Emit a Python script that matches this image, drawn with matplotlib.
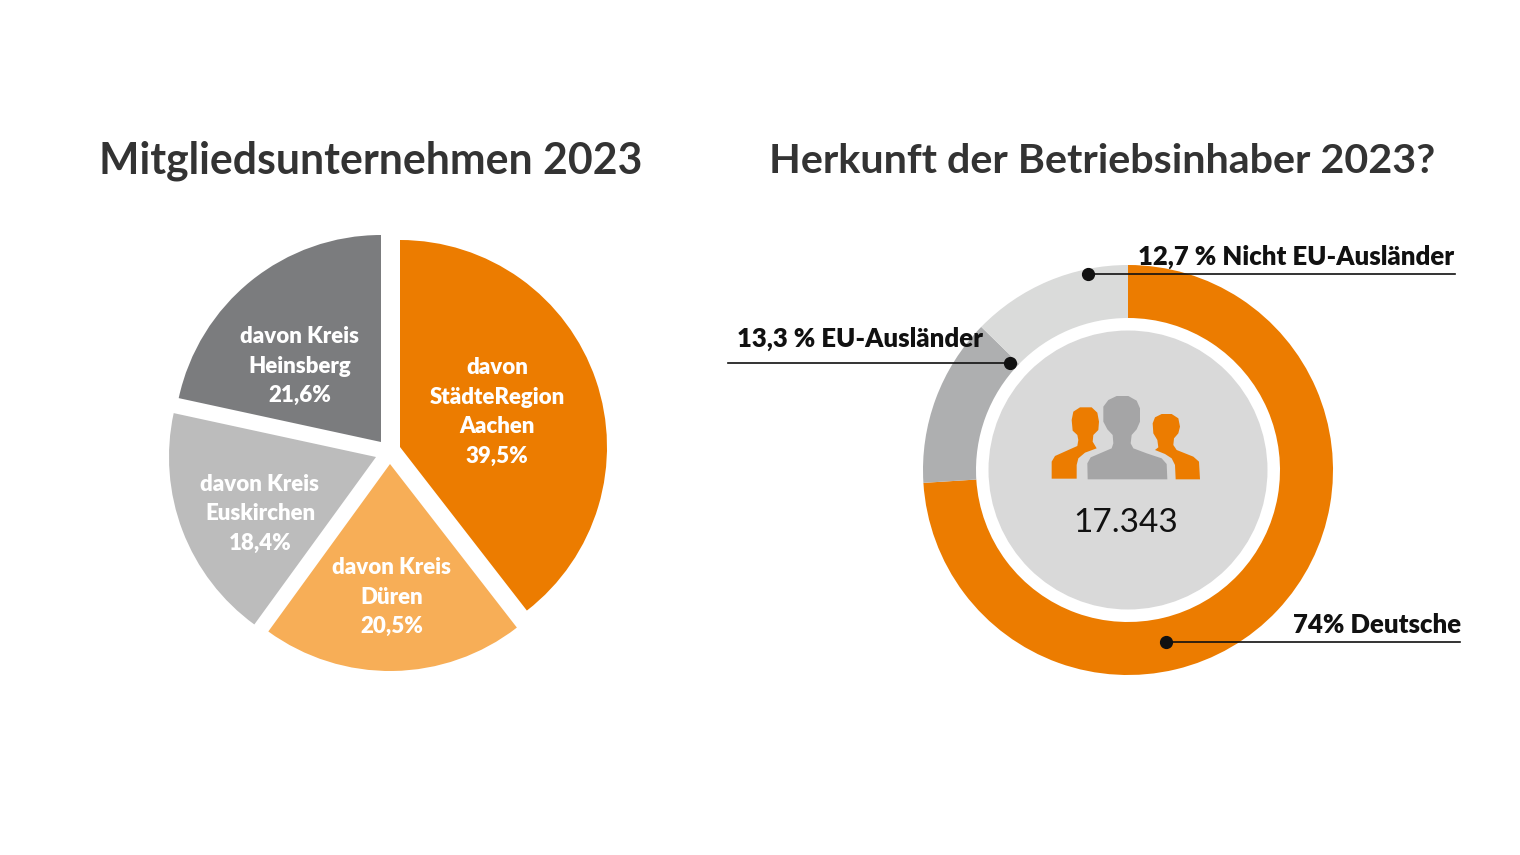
import matplotlib
matplotlib.use("Agg")
import matplotlib.pyplot as plt
from matplotlib.patches import Wedge, Circle, Polygon

plt.rcParams['font.family'] = ['Lato', 'DejaVu Sans']

# linkes Diagramm
labels_links = ["davon\nStädteRegion\nAachen\n39,5%", "davon Kreis\nDüren\n20,5%",
                "davon Kreis\nEuskirchen\n18,4%", "davon Kreis\nHeinsberg\n21,6%"]
werte_links = [39.5, 20.5, 18.4, 21.6]
farben_links = ["#ec7c00", "#f7ae57", "#bcbcbc", "#7b7c7e"]

# rechtes Diagramm
werte_rechts = [74, 13.3, 12.7]
farben_rechts = ["#ec7c00", "#aeafb0", "#dadbda"]
labels_rechts = ["74% Deutsche", "13,3 % EU-Ausländer", "12,7 % Nicht EU-Ausländer"]
gesamt = "17.343"

titel_links = "Mitgliedsunternehmen 2023"
titel_rechts = "Herkunft der Betriebsinhaber 2023?"

fig = plt.figure(figsize=(15.2, 8.55), dpi=100)
ax = fig.add_axes([0, 0, 1, 1])
ax.set_xlim(0, 1520)
ax.set_ylim(855, 0)
ax.set_aspect("equal")
ax.axis("off")

# Tortenstuecke, im Bild y nach unten, deshalb Winkel gespiegelt
r = 207
zentren = [(400, 447), (390, 464), (376, 457), (381, 442)]
start = 90
for wert, farbe, mitte in zip(werte_links, farben_links, zentren):
    ende = start - wert * 3.6
    ax.add_patch(Wedge(mitte, r, -start, -ende, facecolor=farbe, edgecolor="none"))
    start = ende

pos_labels = [(497, 412), (392, 597), (260, 514), (300, 366)]
for text, (x, y) in zip(labels_links, pos_labels):
    ax.text(x, y, text, color="white", fontsize=16, fontweight="heavy", ha="center", va="center", linespacing=1.5)

# Ring
cx2, cy2, r2 = 1128, 470, 205
start = 90
for wert, farbe in zip(werte_rechts, farben_rechts):
    ende = start - wert * 3.6
    ax.add_patch(Wedge((cx2, cy2), r2, -start, -ende, width=53, facecolor=farbe, edgecolor="none"))
    start = ende
ax.add_patch(Circle((cx2, cy2), 139.5, facecolor="#d9d9d9", edgecolor="none"))

person_mitte = [(263, 328), (262, 280), (272, 262), (300, 250), (335, 235), (340, 220), (338, 195), (322, 178),
                (310, 155), (310, 110), (325, 90), (350, 78), (385, 78), (410, 92), (420, 115), (420, 155),
                (410, 178), (395, 195), (392, 220), (400, 235), (440, 250), (485, 265), (500, 282), (502, 328)]
person_links = [(155, 326), (155, 275), (165, 258), (205, 240), (232, 228), (235, 210), (232, 195), (218, 182),
                (215, 150), (220, 125), (240, 112), (275, 112), (292, 128), (297, 155), (295, 180), (280, 195),
                (278, 215), (290, 235), (255, 248), (235, 265), (230, 285), (230, 326)]
person_rechts = [(527, 328), (525, 285), (515, 265), (495, 252), (465, 240), (475, 232), (472, 210), (460, 190),
                 (458, 160), (465, 142), (485, 132), (515, 132), (535, 145), (540, 170), (535, 190), (522, 205),
                 (520, 225), (530, 240), (580, 260), (597, 275), (600, 328)]

def umriss(punkte):
    return [(1000 + x / 3, 370 + y / 3) for x, y in punkte]

ax.add_patch(Polygon(umriss(person_links), facecolor="#ec7c00", edgecolor="none"))
ax.add_patch(Polygon(umriss(person_rechts), facecolor="#ec7c00", edgecolor="none"))
ax.add_patch(Polygon(umriss(person_mitte), facecolor="#a5a5a6", edgecolor="none"))

ax.text(1126, 523, gesamt, fontsize=24, color="#111111", ha="center", va="center")

# Titel
ax.text(371, 161, titel_links, fontsize=30.8, color="#333333", fontweight="bold", ha="center", va="center")
ax.text(1102, 161, titel_rechts, fontsize=29.7, color="#333333", fontweight="bold", ha="center", va="center")

# Beschriftung mit Linien
ax.plot([1088, 1455], [274, 274], color="#111111", lw=1.2)
ax.plot(1088, 274, "o", color="#111111", ms=8.5)
ax.text(1296, 257, labels_rechts[2], fontsize=18.5, fontweight="heavy", color="#111111", ha="center", va="center")
ax.plot([728, 1010], [363, 363], color="#111111", lw=1.2)
ax.plot(1010, 363, "o", color="#111111", ms=8.5)
ax.text(860, 339, labels_rechts[1], fontsize=18.5, fontweight="heavy", color="#111111", ha="center", va="center")
ax.plot([1166, 1460], [642, 642], color="#111111", lw=1.2)
ax.plot(1166, 642, "o", color="#111111", ms=8.5)
ax.text(1377, 625, labels_rechts[0], fontsize=18.5, fontweight="heavy", color="#111111", ha="center", va="center")

fig.savefig("out.png", dpi=100)
